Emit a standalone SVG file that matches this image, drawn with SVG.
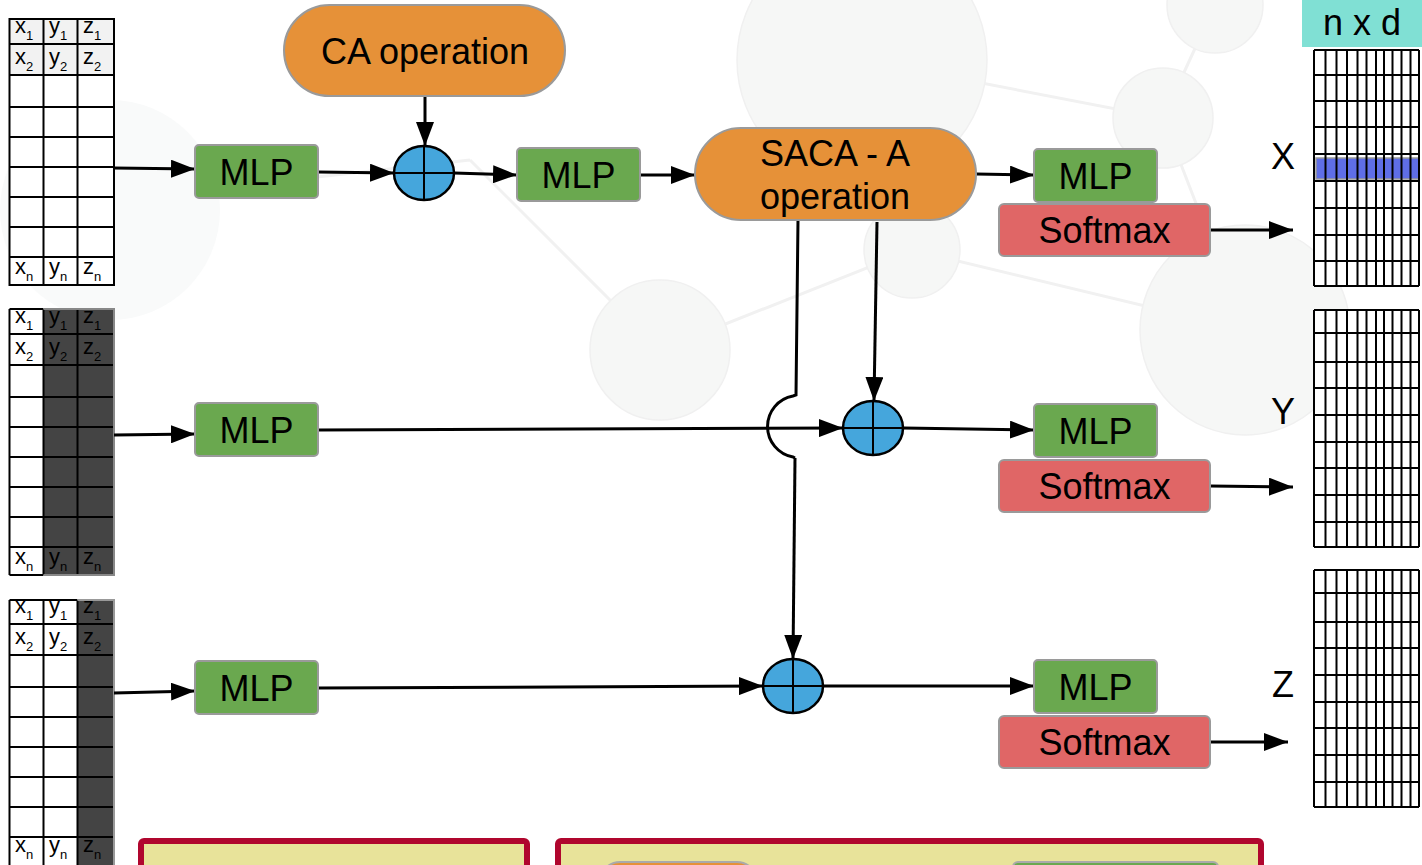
<svg xmlns="http://www.w3.org/2000/svg" width="1422" height="865" viewBox="0 0 1422 865">
<defs>
<style>
.t{font-family:"Liberation Sans",Arial,sans-serif;fill:#000}
.big{font-size:36px}
.cell{font-size:22px}
.sub{font-size:13px}
.mlp{fill:#6aa84f;stroke:#9a9a9a;stroke-width:2}
.sm{fill:#e06666;stroke:#9a9a9a;stroke-width:2}
.pill{fill:#e69138;stroke:#9a9a9a;stroke-width:2}
.sum{fill:#45a6dc;stroke:#000;stroke-width:2.5}
.cr{stroke:#000;stroke-width:2}
.con{stroke:#000;stroke-width:3;fill:none}
.arr{marker-end:url(#ah)}
.tl{stroke:#000;stroke-width:2;fill:none}
.gl{stroke:#000;stroke-width:2;fill:none}
.bg{fill:#f6f7f6;stroke:#f0f0f0;stroke-width:1.5}
.bgl{stroke:#f1f1f1;stroke-width:3;fill:none}
</style>
<marker id="ah" viewBox="0 0 24 18" refX="24" refY="9" markerWidth="24" markerHeight="18" markerUnits="userSpaceOnUse" orient="auto">
<path d="M0,0 L24,9 L0,18 z" fill="#000"/>
</marker>
</defs>

<rect width="1422" height="865" fill="#fff"/>

<g id="background">
<path class="bgl" d="M862,60 L1163,118 L1245,330 M912,250 L660,350 M912,250 L1245,330 M660,350 L470,160 M1163,118 L1215,5 M110,200 L470,160"/>
<circle class="bg" cx="110" cy="210" r="110" style="fill:#f9fafa;stroke:none"/>
<circle class="bg" cx="862" cy="60" r="125"/>
<circle class="bg" cx="1163" cy="118" r="50"/>
<circle class="bg" cx="1215" cy="5" r="48"/>
<circle class="bg" cx="660" cy="350" r="70"/>
<circle class="bg" cx="912" cy="250" r="48"/>
<circle class="bg" cx="1245" cy="330" r="105"/>
</g>

<g id="table-top">
<rect x="9.5" y="19" width="104.5" height="56" fill="#f2f2f2"/>
<rect x="9.5" y="75" width="104.5" height="210" fill="#fff"/>
<rect class="tl" x="9.5" y="19" width="104.5" height="266"/>
<path class="tl" d="M43.5,19V285M77.5,19V285M9.5,44H114M9.5,75H114M9.5,107H114M9.5,137H114M9.5,167H114M9.5,197H114M9.5,227H114M9.5,257H114"/>
<text class="t cell" x="15" y="33">x<tspan class="sub" dy="7">1</tspan></text>
<text class="t cell" x="49" y="33">y<tspan class="sub" dy="7">1</tspan></text>
<text class="t cell" x="83" y="33">z<tspan class="sub" dy="7">1</tspan></text>
<text class="t cell" x="15" y="64">x<tspan class="sub" dy="7">2</tspan></text>
<text class="t cell" x="49" y="64">y<tspan class="sub" dy="7">2</tspan></text>
<text class="t cell" x="83" y="64">z<tspan class="sub" dy="7">2</tspan></text>
<text class="t cell" x="15" y="274">x<tspan class="sub" dy="7">n</tspan></text>
<text class="t cell" x="49" y="274">y<tspan class="sub" dy="7">n</tspan></text>
<text class="t cell" x="83" y="274">z<tspan class="sub" dy="7">n</tspan></text>
</g>

<g id="table-mid">
<rect x="9.5" y="309" width="34" height="266" fill="#fff"/>
<rect x="43.5" y="309" width="70.5" height="266" fill="#444"/>
<path class="tl" d="M9.5,309H43.5M9.5,575H43.5M9.5,309V575"/>
<path class="tl" d="M43.5,309V575M77.5,309V575M9.5,334H114M9.5,365H114M9.5,397H114M9.5,427H114M9.5,457H114M9.5,487H114M9.5,517H114M9.5,547H114"/>
<path d="M43.5,309H114V575H43.5" fill="none" stroke="#888" stroke-width="2"/>
<text class="t cell" x="15" y="323">x<tspan class="sub" dy="7">1</tspan></text>
<text class="t cell" x="49" y="323">y<tspan class="sub" dy="7">1</tspan></text>
<text class="t cell" x="83" y="323">z<tspan class="sub" dy="7">1</tspan></text>
<text class="t cell" x="15" y="354">x<tspan class="sub" dy="7">2</tspan></text>
<text class="t cell" x="49" y="354">y<tspan class="sub" dy="7">2</tspan></text>
<text class="t cell" x="83" y="354">z<tspan class="sub" dy="7">2</tspan></text>
<text class="t cell" x="15" y="564">x<tspan class="sub" dy="7">n</tspan></text>
<text class="t cell" x="49" y="564">y<tspan class="sub" dy="7">n</tspan></text>
<text class="t cell" x="83" y="564">z<tspan class="sub" dy="7">n</tspan></text>
</g>

<g id="table-bot">
<rect x="9.5" y="600" width="68" height="270" fill="#fff"/>
<rect x="77.5" y="600" width="36.5" height="270" fill="#444"/>
<path class="tl" d="M9.5,600H77.5M9.5,600V870"/>
<path class="tl" d="M43.5,600V870M77.5,600V870M9.5,624H114M9.5,655H114M9.5,687H114M9.5,717H114M9.5,747H114M9.5,777H114M9.5,807H114M9.5,837H114"/>
<path d="M77.5,600H114V870" fill="none" stroke="#999" stroke-width="2"/>
<text class="t cell" x="15" y="613">x<tspan class="sub" dy="7">1</tspan></text>
<text class="t cell" x="49" y="613">y<tspan class="sub" dy="7">1</tspan></text>
<text class="t cell" x="83" y="613">z<tspan class="sub" dy="7">1</tspan></text>
<text class="t cell" x="15" y="644">x<tspan class="sub" dy="7">2</tspan></text>
<text class="t cell" x="49" y="644">y<tspan class="sub" dy="7">2</tspan></text>
<text class="t cell" x="83" y="644">z<tspan class="sub" dy="7">2</tspan></text>
<text class="t cell" x="15" y="852">x<tspan class="sub" dy="7">n</tspan></text>
<text class="t cell" x="49" y="852">y<tspan class="sub" dy="7">n</tspan></text>
<text class="t cell" x="83" y="852">z<tspan class="sub" dy="7">n</tspan></text>
</g>

<g id="connectors">
<line class="con arr" x1="114" y1="168" x2="195" y2="169"/>
<line class="con arr" x1="114" y1="435" x2="195" y2="434"/>
<line class="con arr" x1="114" y1="693" x2="195" y2="691"/>
<line class="con arr" x1="425" y1="96" x2="425" y2="146"/>
<line class="con arr" x1="318" y1="172" x2="394" y2="173"/>
<line class="con arr" x1="454" y1="173" x2="517" y2="175"/>
<line class="con arr" x1="640" y1="175" x2="695" y2="175"/>
<line class="con arr" x1="976" y1="174" x2="1034" y2="175"/>
<line class="con arr" x1="1210" y1="230" x2="1293" y2="230"/>
<line class="con arr" x1="318" y1="430" x2="843" y2="428"/>
<line class="con arr" x1="877" y1="222" x2="874" y2="401"/>
<line class="con arr" x1="903" y1="428" x2="1034" y2="430"/>
<line class="con arr" x1="1210" y1="486" x2="1293" y2="487"/>
<path class="con" d="M798,220 L796,395 L793,396 A31,31 0 0 0 793,457 L795,458"/>
<line class="con arr" x1="795" y1="458" x2="793" y2="659"/>
<line class="con arr" x1="318" y1="688" x2="763" y2="686"/>
<line class="con arr" x1="823" y1="686" x2="1034" y2="686"/>
<line class="con arr" x1="1210" y1="742" x2="1288" y2="742"/>
</g>

<g id="ca-op">
<rect class="pill" x="284" y="5" width="281" height="91" rx="45.5"/>
<text class="t big" x="425" y="64" text-anchor="middle">CA operation</text>
</g>

<g id="mlp-1"><rect class="mlp" x="195" y="145" width="123" height="53" rx="4"/><text class="t big" x="256.5" y="185" text-anchor="middle">MLP</text></g>
<g id="mlp-2"><rect class="mlp" x="195" y="403" width="123" height="53" rx="4"/><text class="t big" x="256.5" y="443" text-anchor="middle">MLP</text></g>
<g id="mlp-3"><rect class="mlp" x="195" y="661" width="123" height="53" rx="4"/><text class="t big" x="256.5" y="701" text-anchor="middle">MLP</text></g>
<g id="mlp-4"><rect class="mlp" x="517" y="148" width="123" height="53" rx="4"/><text class="t big" x="578.5" y="188" text-anchor="middle">MLP</text></g>

<g id="sum-1"><ellipse class="sum" cx="424" cy="173" rx="30" ry="27"/><path class="cr" d="M394,173H454M424,146V200"/></g>
<g id="sum-2"><ellipse class="sum" cx="873" cy="428" rx="30" ry="27"/><path class="cr" d="M843,428H903M873,401V455"/></g>
<g id="sum-3"><ellipse class="sum" cx="793" cy="686" rx="30" ry="27"/><path class="cr" d="M763,686H823M793,659V713"/></g>

<g id="saca">
<rect class="pill" x="695" y="128" width="281" height="92" rx="46"/>
<text class="t big" x="835" y="166" text-anchor="middle">SACA - A</text>
<text class="t big" x="835" y="209" text-anchor="middle">operation</text>
</g>

<g id="out-x">
<rect class="mlp" x="1034" y="149" width="123" height="53" rx="4"/><text class="t big" x="1095.5" y="189" text-anchor="middle">MLP</text>
<rect class="sm" x="999" y="204" width="211" height="52" rx="5"/><text class="t big" x="1104.5" y="243" text-anchor="middle">Softmax</text>
</g>
<g id="out-y">
<rect class="mlp" x="1034" y="404" width="123" height="53" rx="4"/><text class="t big" x="1095.5" y="444" text-anchor="middle">MLP</text>
<rect class="sm" x="999" y="460" width="211" height="52" rx="5"/><text class="t big" x="1104.5" y="499" text-anchor="middle">Softmax</text>
</g>
<g id="out-z">
<rect class="mlp" x="1034" y="660" width="123" height="53" rx="4"/><text class="t big" x="1095.5" y="700" text-anchor="middle">MLP</text>
<rect class="sm" x="999" y="716" width="211" height="52" rx="5"/><text class="t big" x="1104.5" y="755" text-anchor="middle">Softmax</text>
</g>

<g id="nxd">
<rect x="1302" y="0" width="120" height="47" fill="#80e0d4"/>
<text class="t big" x="1362" y="35" text-anchor="middle">n x d</text>
</g>
<text class="t big" x="1283" y="169" text-anchor="middle">X</text>
<text class="t big" x="1283" y="424" text-anchor="middle">Y</text>
<text class="t big" x="1283" y="697" text-anchor="middle">Z</text>

<g id="grid-x">
<rect x="1314" y="50" width="105" height="236" fill="#fff"/>
<rect x="1316" y="158" width="103" height="21" fill="#5f6ee6" stroke="#999" stroke-width="1.5"/>
<path class="gl" d="M1314,50V286M1325.5,50V286M1336.5,50V286M1347,50V286M1357.5,50V286M1366.5,50V286M1376,50V286M1384,50V286M1392.5,50V286M1401.5,50V286M1410.5,50V286M1419,50V286"/>
<path class="gl" d="M1314,50H1419M1314,75H1419M1314,101H1419M1314,127H1419M1314,154H1419M1314,181H1419M1314,208H1419M1314,235H1419M1314,261H1419M1314,286H1419"/>
</g>
<g id="grid-y">
<rect x="1314" y="310" width="105" height="237" fill="#fff"/>
<path class="gl" d="M1314,310V547M1325.5,310V547M1336.5,310V547M1347,310V547M1357.5,310V547M1366.5,310V547M1376,310V547M1384,310V547M1392.5,310V547M1401.5,310V547M1410.5,310V547M1419,310V547"/>
<path class="gl" d="M1314,310H1419M1314,333H1419M1314,362H1419M1314,388H1419M1314,415H1419M1314,442H1419M1314,468H1419M1314,495H1419M1314,522H1419M1314,547H1419"/>
</g>
<g id="grid-z">
<rect x="1314" y="570" width="105" height="237" fill="#fff"/>
<path class="gl" d="M1314,570V807M1325.5,570V807M1336.5,570V807M1347,570V807M1357.5,570V807M1366.5,570V807M1376,570V807M1384,570V807M1392.5,570V807M1401.5,570V807M1410.5,570V807M1419,570V807"/>
<path class="gl" d="M1314,570H1419M1314,593H1419M1314,622H1419M1314,648H1419M1314,675H1419M1314,702H1419M1314,728H1419M1314,755H1419M1314,782H1419M1314,807H1419"/>
</g>

<g id="legend-1">
<rect x="141" y="841" width="386" height="40" rx="3" fill="#e8e39a" stroke="#b0062e" stroke-width="6"/>
</g>
<g id="legend-2">
<rect x="558" y="841" width="703" height="40" rx="3" fill="#e8e39a" stroke="#b0062e" stroke-width="6"/>
<rect x="600" y="862" width="157" height="40" rx="20" fill="#e69138" stroke="#aaa" stroke-width="2"/>
<rect x="1013" y="862" width="205" height="40" rx="5" fill="#6aa84f" stroke="#aaa" stroke-width="2"/>
</g>
</svg>
